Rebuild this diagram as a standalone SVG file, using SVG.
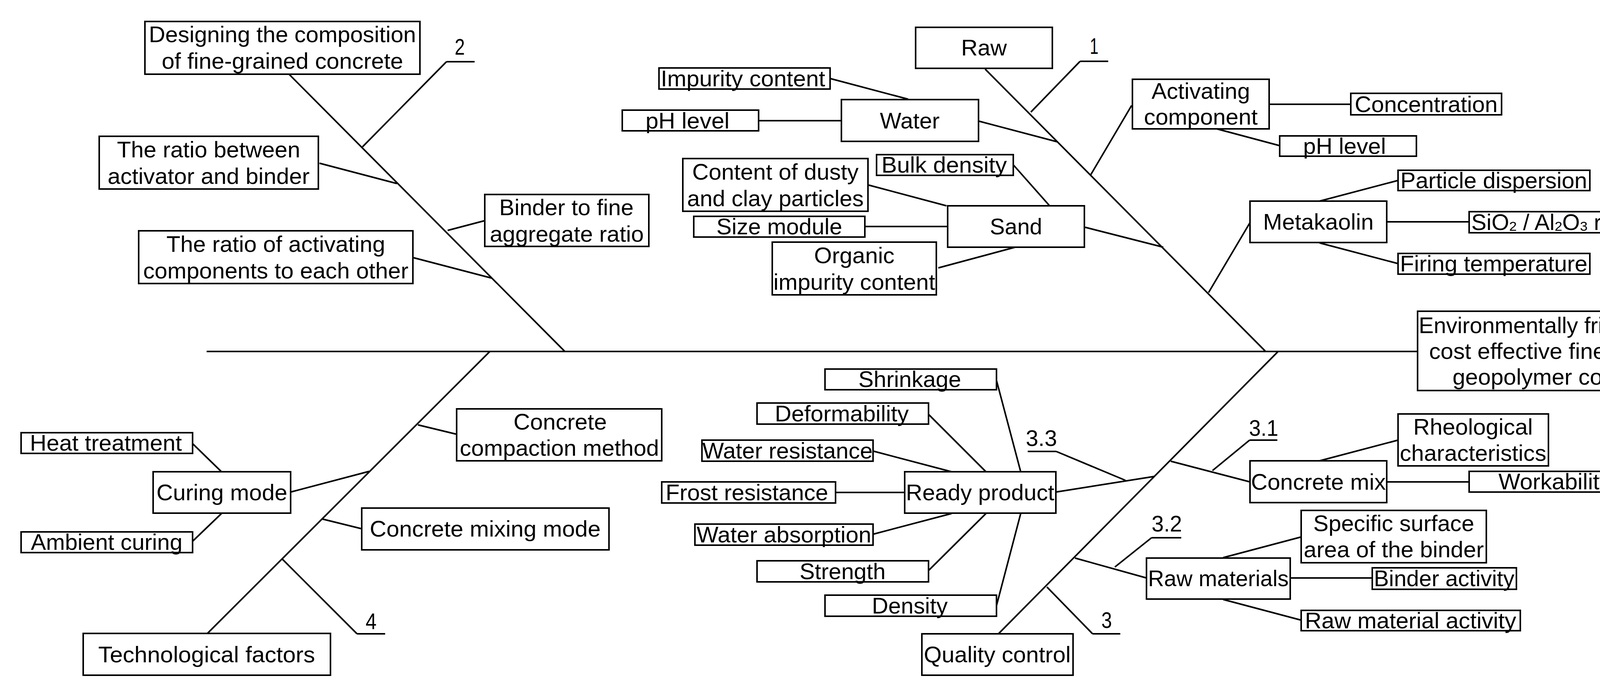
<svg xmlns="http://www.w3.org/2000/svg" width="4421" height="1772" viewBox="0 0 4421 1772">
<style>
rect{fill:#fff;stroke:#000;stroke-width:4}
line{stroke:#000;stroke-width:4}
text{font-family:"Liberation Sans",Arial,sans-serif;font-size:57px;text-anchor:middle;dominant-baseline:central;fill:#000}
</style>
<rect x="0" y="0" width="4421" height="1772" style="stroke:none"/>
<g id="connectors">
<line x1="529" y1="900" x2="3629" y2="900"/>
<line x1="722" y1="172" x2="1445" y2="899"/>
<line x1="1143" y1="158" x2="1215" y2="158"/><line x1="1143" y1="158" x2="928" y2="376"/>
<line x1="818" y1="418" x2="1016" y2="470"/>
<line x1="1146" y1="590" x2="1241" y2="565"/>
<line x1="1059" y1="660" x2="1258" y2="712"/>
<line x1="2522" y1="177" x2="3239" y2="899"/>
<line x1="2765" y1="157" x2="2837" y2="157"/><line x1="2765" y1="157" x2="2639" y2="287"/>
<line x1="2125" y1="201" x2="2325" y2="254"/>
<line x1="1942" y1="309" x2="2154" y2="309"/>
<line x1="2505" y1="310" x2="2706" y2="363"/>
<line x1="2594" y1="422" x2="2687" y2="527"/>
<line x1="2224" y1="474" x2="2423" y2="527"/>
<line x1="2214" y1="580" x2="2426" y2="580"/>
<line x1="2402" y1="686" x2="2599" y2="633"/>
<line x1="2778" y1="582" x2="2978" y2="633"/>
<line x1="2897" y1="270" x2="2792" y2="448"/>
<line x1="3249" y1="267" x2="3458" y2="267"/>
<line x1="3115" y1="330" x2="3276" y2="373"/>
<line x1="3200" y1="570" x2="3094" y2="749"/>
<line x1="3378" y1="515" x2="3579" y2="462"/>
<line x1="3550" y1="568" x2="3761" y2="568"/>
<line x1="3378" y1="622" x2="3579" y2="675"/>
<line x1="1254" y1="900" x2="531" y2="1622"/>
<line x1="1070" y1="1088" x2="1169" y2="1112"/>
<line x1="744" y1="1260" x2="945" y2="1207"/>
<line x1="493" y1="1136" x2="567" y2="1208"/>
<line x1="493" y1="1386" x2="567" y2="1315"/>
<line x1="825" y1="1329" x2="926" y2="1354"/>
<line x1="722" y1="1431" x2="914" y2="1623"/><line x1="914" y1="1623" x2="986" y2="1623"/>
<line x1="2551" y1="974" x2="2613" y2="1208"/>
<line x1="2377" y1="1061" x2="2524" y2="1208"/>
<line x1="2235" y1="1155" x2="2436" y2="1208"/>
<line x1="2139" y1="1261" x2="2316" y2="1261"/>
<line x1="2235" y1="1368" x2="2436" y2="1315"/>
<line x1="2377" y1="1461" x2="2524" y2="1315"/>
<line x1="2551" y1="1551" x2="2613" y2="1315"/>
<line x1="2703" y1="1260" x2="2955" y2="1220"/>
<line x1="2631" y1="1156" x2="2704" y2="1156"/><line x1="2704" y1="1156" x2="2881" y2="1230"/>
<line x1="2556" y1="1623" x2="3273" y2="899"/>
<line x1="2752" y1="1429" x2="2935" y2="1480"/>
<line x1="2948" y1="1377" x2="3024" y2="1377"/><line x1="2948" y1="1377" x2="2854" y2="1452"/>
<line x1="2680" y1="1503" x2="2797" y2="1623"/><line x1="2797" y1="1623" x2="2868" y2="1623"/>
<line x1="2997" y1="1181" x2="3200" y2="1234"/>
<line x1="3199" y1="1127" x2="3270" y2="1127"/><line x1="3199" y1="1127" x2="3104" y2="1205"/>
<line x1="3378" y1="1180" x2="3579" y2="1127"/>
<line x1="3550" y1="1234" x2="3761" y2="1234"/>
<line x1="3131" y1="1428" x2="3331" y2="1375"/>
<line x1="3303" y1="1480" x2="3513" y2="1480"/>
<line x1="3131" y1="1535" x2="3331" y2="1588"/>
</g>
<g id="labels">
<text x="1177" y="120" textLength="26" lengthAdjust="spacingAndGlyphs">2</text>
<text x="2801" y="118" textLength="22" lengthAdjust="spacingAndGlyphs">1</text>
<text x="950" y="1591" textLength="28" lengthAdjust="spacingAndGlyphs">4</text>
<text x="2666" y="1122" textLength="80" lengthAdjust="spacingAndGlyphs">3.3</text>
<text x="2987" y="1341" textLength="78" lengthAdjust="spacingAndGlyphs">3.2</text>
<text x="2833" y="1588" textLength="27" lengthAdjust="spacingAndGlyphs">3</text>
<text x="3235" y="1096" textLength="75" lengthAdjust="spacingAndGlyphs">3.1</text>
</g>
<g id="n-design"><rect x="371" y="55" width="704" height="135"/><text x="723" y="88" textLength="684" lengthAdjust="spacingAndGlyphs">Designing the composition</text><text x="723" y="156" textLength="618" lengthAdjust="spacingAndGlyphs">of fine-grained concrete</text></g>
<g id="n-ratio-ab"><rect x="254" y="349" width="561" height="135"/><text x="534" y="383" textLength="469" lengthAdjust="spacingAndGlyphs">The ratio between</text><text x="534" y="451" textLength="517" lengthAdjust="spacingAndGlyphs">activator and binder</text></g>
<g id="n-binder-fine"><rect x="1241" y="498" width="420" height="133"/><text x="1450" y="531" textLength="344" lengthAdjust="spacingAndGlyphs">Binder to fine</text><text x="1451" y="599" textLength="394" lengthAdjust="spacingAndGlyphs">aggregate ratio</text></g>
<g id="n-ratio-act"><rect x="355" y="591" width="702" height="135"/><text x="706" y="625" textLength="560" lengthAdjust="spacingAndGlyphs">The ratio of activating</text><text x="706" y="693" textLength="679" lengthAdjust="spacingAndGlyphs">components to each other</text></g>
<g id="n-raw"><rect x="2344" y="70" width="350" height="105"/><text x="2519" y="122" textLength="117" lengthAdjust="spacingAndGlyphs">Raw</text></g>
<g id="n-impurity"><rect x="1687" y="174" width="438" height="54"/><text x="1902" y="201" textLength="421" lengthAdjust="spacingAndGlyphs">Impurity content</text></g>
<g id="n-water"><rect x="2154" y="255" width="351" height="107"/><text x="2329" y="309" textLength="153" lengthAdjust="spacingAndGlyphs">Water</text></g>
<g id="n-ph1"><rect x="1593" y="282" width="349" height="53"/><text x="1760" y="309" textLength="215" lengthAdjust="spacingAndGlyphs">pH level</text></g>
<g id="n-bulk"><rect x="2244" y="396" width="350" height="53"/><text x="2417" y="422" textLength="321" lengthAdjust="spacingAndGlyphs">Bulk density</text></g>
<g id="n-dusty"><rect x="1748" y="406" width="474" height="135"/><text x="1985" y="440" textLength="426" lengthAdjust="spacingAndGlyphs">Content of dusty</text><text x="1985" y="508" textLength="452" lengthAdjust="spacingAndGlyphs">and clay particles</text></g>
<g id="n-sand"><rect x="2426" y="527" width="350" height="106"/><text x="2601" y="580" textLength="134" lengthAdjust="spacingAndGlyphs">Sand</text></g>
<g id="n-size"><rect x="1776" y="554" width="438" height="53"/><text x="1995" y="580" textLength="322" lengthAdjust="spacingAndGlyphs">Size module</text></g>
<g id="n-organic"><rect x="1977" y="620" width="420" height="135"/><text x="2187" y="654" textLength="206" lengthAdjust="spacingAndGlyphs">Organic</text><text x="2187" y="722" textLength="414" lengthAdjust="spacingAndGlyphs">impurity content</text></g>
<g id="n-activating"><rect x="2899" y="203" width="350" height="127"/><text x="3074" y="233" textLength="252" lengthAdjust="spacingAndGlyphs">Activating</text><text x="3074" y="299" textLength="291" lengthAdjust="spacingAndGlyphs">component</text></g>
<g id="n-conc"><rect x="3458" y="239" width="386" height="55"/><text x="3651" y="267" textLength="366" lengthAdjust="spacingAndGlyphs">Concentration</text></g>
<g id="n-ph2"><rect x="3276" y="348" width="350" height="52"/><text x="3442" y="374" textLength="212" lengthAdjust="spacingAndGlyphs">pH level</text></g>
<g id="n-particle"><rect x="3579" y="436" width="491" height="52"/><text x="3824" y="462" textLength="478" lengthAdjust="spacingAndGlyphs">Particle dispersion</text></g>
<g id="n-meta"><rect x="3200" y="515" width="350" height="106"/><text x="3375" y="568" textLength="283" lengthAdjust="spacingAndGlyphs">Metakaolin</text></g>
<g id="n-sio2"><rect x="3761" y="542" width="439" height="54"/><text x="3980" y="569" textLength="427" lengthAdjust="spacingAndGlyphs">SiO<tspan font-size="34" dy="10">2</tspan><tspan dy="-10"> / Al</tspan><tspan font-size="34" dy="10">2</tspan><tspan dy="-10">O</tspan><tspan font-size="34" dy="10">3</tspan><tspan dy="-10"> ratio</tspan></text></g>
<g id="n-firing"><rect x="3579" y="649" width="491" height="53"/><text x="3824" y="675" textLength="480" lengthAdjust="spacingAndGlyphs">Firing temperature</text></g>
<g id="n-env"><rect x="3629" y="797" width="727" height="203"/><text x="3992" y="833" textLength="720" lengthAdjust="spacingAndGlyphs">Environmentally friendly and</text><text x="3992" y="899" textLength="667" lengthAdjust="spacingAndGlyphs">cost effective fine-grained</text><text x="3992" y="965" textLength="547" lengthAdjust="spacingAndGlyphs">geopolymer concrete</text></g>
<g id="n-compaction"><rect x="1169" y="1047" width="525" height="133"/><text x="1434" y="1080" textLength="239" lengthAdjust="spacingAndGlyphs">Concrete</text><text x="1432" y="1147" textLength="510" lengthAdjust="spacingAndGlyphs">compaction method</text></g>
<g id="n-curing"><rect x="392" y="1208" width="352" height="106"/><text x="568" y="1261" textLength="335" lengthAdjust="spacingAndGlyphs">Curing mode</text></g>
<g id="n-heat"><rect x="54" y="1108" width="439" height="53"/><text x="271" y="1134" textLength="389" lengthAdjust="spacingAndGlyphs">Heat treatment</text></g>
<g id="n-ambient"><rect x="54" y="1362" width="439" height="53"/><text x="273" y="1388" textLength="388" lengthAdjust="spacingAndGlyphs">Ambient curing</text></g>
<g id="n-mixing"><rect x="926" y="1301" width="633" height="107"/><text x="1242" y="1354" textLength="591" lengthAdjust="spacingAndGlyphs">Concrete mixing mode</text></g>
<g id="n-tech"><rect x="213" y="1622" width="633" height="107"/><text x="529" y="1676" textLength="555" lengthAdjust="spacingAndGlyphs">Technological factors</text></g>
<g id="n-shrink"><rect x="2112" y="945" width="439" height="53"/><text x="2329" y="971" textLength="263" lengthAdjust="spacingAndGlyphs">Shrinkage</text></g>
<g id="n-deform"><rect x="1938" y="1032" width="439" height="54"/><text x="2155" y="1059" textLength="343" lengthAdjust="spacingAndGlyphs">Deformability</text></g>
<g id="n-waterres"><rect x="1797" y="1127" width="438" height="54"/><text x="2016" y="1154" textLength="436" lengthAdjust="spacingAndGlyphs">Water resistance</text></g>
<g id="n-frost"><rect x="1694" y="1234" width="445" height="54"/><text x="1912" y="1261" textLength="416" lengthAdjust="spacingAndGlyphs">Frost resistance</text></g>
<g id="n-ready"><rect x="2316" y="1208" width="387" height="106"/><text x="2509" y="1261" textLength="380" lengthAdjust="spacingAndGlyphs">Ready product</text></g>
<g id="n-waterabs"><rect x="1779" y="1342" width="456" height="54"/><text x="2007" y="1369" textLength="447" lengthAdjust="spacingAndGlyphs">Water absorption</text></g>
<g id="n-strength"><rect x="1938" y="1436" width="439" height="54"/><text x="2157" y="1463" textLength="220" lengthAdjust="spacingAndGlyphs">Strength</text></g>
<g id="n-density"><rect x="2112" y="1524" width="439" height="54"/><text x="2329" y="1551" textLength="194" lengthAdjust="spacingAndGlyphs">Density</text></g>
<g id="n-quality"><rect x="2360" y="1623" width="387" height="106"/><text x="2553" y="1676" textLength="376" lengthAdjust="spacingAndGlyphs">Quality control</text></g>
<g id="n-mix"><rect x="3200" y="1180" width="350" height="107"/><text x="3375" y="1234" textLength="345" lengthAdjust="spacingAndGlyphs">Concrete mix</text></g>
<g id="n-rheo"><rect x="3579" y="1060" width="385" height="133"/><text x="3771" y="1093" textLength="306" lengthAdjust="spacingAndGlyphs">Rheological</text><text x="3771" y="1160" textLength="375" lengthAdjust="spacingAndGlyphs">characteristics</text></g>
<g id="n-work"><rect x="3761" y="1207" width="439" height="53"/><text x="3980" y="1233" textLength="288" lengthAdjust="spacingAndGlyphs">Workability</text></g>
<g id="n-specific"><rect x="3331" y="1307" width="474" height="134"/><text x="3568" y="1340" textLength="412" lengthAdjust="spacingAndGlyphs">Specific surface</text><text x="3568" y="1407" textLength="461" lengthAdjust="spacingAndGlyphs">area of the binder</text></g>
<g id="n-rawmat"><rect x="2935" y="1429" width="368" height="105"/><text x="3119" y="1481" textLength="360" lengthAdjust="spacingAndGlyphs">Raw materials</text></g>
<g id="n-binderact"><rect x="3513" y="1454" width="369" height="55"/><text x="3697" y="1481" textLength="360" lengthAdjust="spacingAndGlyphs">Binder activity</text></g>
<g id="n-rawact"><rect x="3331" y="1563" width="561" height="52"/><text x="3611" y="1589" textLength="541" lengthAdjust="spacingAndGlyphs">Raw material activity</text></g>
</svg>
